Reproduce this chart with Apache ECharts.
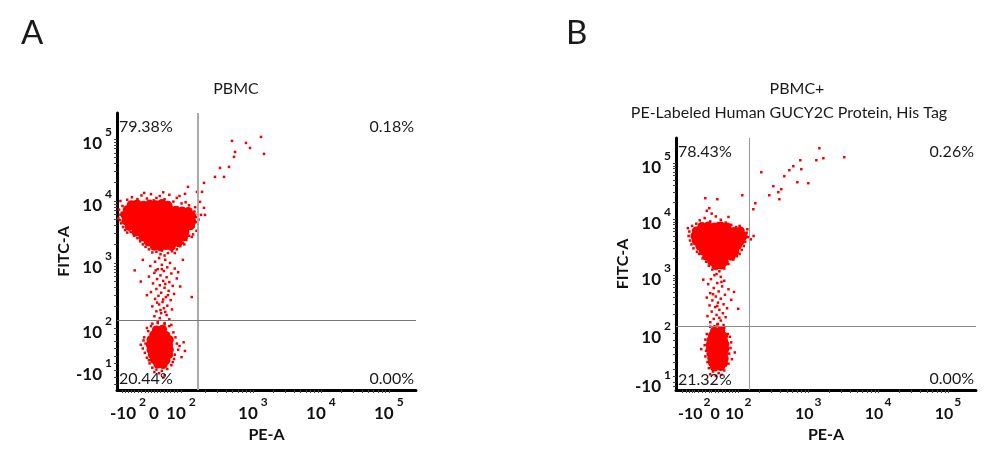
<!DOCTYPE html>
<html>
<head>
<meta charset="utf-8">
<script src="https://cdn.jsdelivr.net/npm/echarts@6/dist/echarts.min.js"></script>
<style>
html,body{margin:0;padding:0;background:#fff;}
#chart{width:1000px;height:456px;}
</style>
</head>
<body>
<div id="chart"></div>
<script>
// Axis coordinates are biexponential display units (1 unit = 1 decade above 10^2).
// ---- Tick labels ----
const xTickPosA = [1.162, 1.544, 1.941, 3, 4, 5];
const yTickPosA = [1.274, 1.952, 3, 4, 5];
const xTickPosB = [1.37, 1.671, 2.0, 3, 4, 5];
const yTickPosB = [1.09, 1.96, 3, 4, 5];
const xTickBase = ['-10', '0', '10', '10', '10', '10'];
const xTickExp  = ['2', '', '2', '3', '4', '5'];
const yTickBase = ['-10', '10', '10', '10', '10'];
const yTickExp  = ['1', '2', '3', '4', '5'];

// ---- Quadrant gates ----
const gateA = {x: 2.19, y: 2.074};
const gateB = {x: 2.158, y: 2.089};

// ---- Quadrant percentages [UL, UR, LL, LR] ----
const quadA = ['79.38%', '0.18%', '20.44%', '0.00%'];
const quadB = ['78.43%', '0.26%', '21.32%', '0.00%'];

// ---- Panel A events (PE-A, FITC-A) ----
const aDense = [
[1.21,3.94],[1.30,3.95],[1.39,3.93],[1.48,3.95],[1.57,3.94],[1.66,3.96],[1.75,3.93],
[1.15,3.86],[1.24,3.87],[1.33,3.85],[1.42,3.87],[1.51,3.86],[1.60,3.88],[1.69,3.85],[1.78,3.86],[1.87,3.85],[1.96,3.84],[2.05,3.83],
[1.12,3.77],[1.21,3.78],[1.30,3.76],[1.39,3.78],[1.48,3.77],[1.57,3.79],[1.66,3.76],[1.75,3.78],[1.84,3.77],[1.93,3.76],[2.02,3.78],[2.10,3.76],
[1.13,3.68],[1.22,3.69],[1.31,3.67],[1.40,3.69],[1.49,3.68],[1.58,3.70],[1.67,3.67],[1.76,3.69],[1.85,3.68],[1.94,3.67],[2.03,3.69],[2.10,3.67],
[1.18,3.59],[1.27,3.60],[1.36,3.58],[1.45,3.60],[1.54,3.59],[1.63,3.61],[1.72,3.58],[1.81,3.60],[1.90,3.59],[1.99,3.58],[2.08,3.60],
[1.28,3.50],[1.37,3.51],[1.46,3.49],[1.55,3.51],[1.64,3.50],[1.73,3.52],[1.82,3.49],[1.91,3.51],[2.00,3.50],
[1.38,3.42],[1.47,3.43],[1.56,3.41],[1.65,3.43],[1.74,3.42],[1.83,3.41],[1.92,3.43],[1.98,3.42],
[1.46,3.34],[1.55,3.35],[1.64,3.33],[1.73,3.35],[1.82,3.34],[1.90,3.33],
[1.55,3.27],[1.64,3.26],[1.72,3.28],[1.80,3.27],
[1.58,1.92],[1.67,1.93],
[1.54,1.84],[1.63,1.85],[1.72,1.83],
[1.50,1.76],[1.59,1.77],[1.68,1.75],[1.77,1.76],
[1.49,1.68],[1.58,1.69],[1.67,1.67],[1.76,1.68],
[1.50,1.60],[1.59,1.61],[1.68,1.59],[1.77,1.60],
[1.52,1.52],[1.61,1.53],[1.70,1.51],[1.76,1.52],
[1.55,1.44],[1.64,1.45],[1.72,1.43],
[1.60,1.37],[1.68,1.36]
];
const aSparse = [
[1.15,4.02],[1.22,4.06],[1.30,4.03],[1.36,4.09],[1.44,4.04],[1.50,4.11],[1.58,4.05],[1.63,4.08],[1.70,4.03],[1.77,4.10],[1.83,3.99],[1.88,4.05],[1.95,3.96],[2.01,3.98],[2.06,3.93],[1.40,4.13],[1.68,4.14],[1.05,4.00],[1.26,3.99],[1.54,4.01],[1.92,4.08],
[1.03,3.86],[1.05,3.78],[1.02,3.72],[1.06,3.64],[1.08,3.92],[1.04,3.69],[1.09,3.58],[1.12,3.53],[1.15,3.49],[1.07,3.81],
[2.14,3.83],[2.16,3.74],[2.18,3.66],[2.13,3.59],[2.17,3.52],[2.12,3.46],[2.20,3.70],[2.15,3.90],[2.10,3.42],[2.19,3.79],
[1.20,3.50],[1.25,3.44],[1.30,3.40],[1.34,3.35],[1.24,3.53],[1.38,3.30],[1.42,3.26],[1.47,3.22],[1.36,3.43],[1.19,3.56],
[2.06,3.44],[2.02,3.37],[1.97,3.32],[1.93,3.27],[1.88,3.22],[2.04,3.52],[1.99,3.30],[1.85,3.16],[1.81,3.19],
[1.58,3.18],[1.64,3.14],[1.70,3.12],[1.75,3.16],[1.52,3.17],[1.66,3.20],
[1.62,3.08],[1.71,3.05],[1.56,3.02],[1.78,3.00],[1.66,2.97],[1.49,2.95],[1.74,2.93],[1.60,2.90],[1.85,2.91],[1.69,2.87],[1.55,2.84],[1.80,2.83],[1.64,2.80],[1.73,2.77],[1.47,2.78],[1.59,2.74],[1.88,2.75],[1.68,2.71],[1.77,2.69],[1.53,2.67],[1.63,2.64],[1.82,2.63],[1.70,2.60],[1.58,2.58],[1.76,2.55],[1.65,2.52],[1.50,2.53],[1.84,2.50],[1.61,2.47],[1.72,2.45],[1.56,2.42],[1.79,2.40],[1.67,2.37],[1.62,2.33],[1.74,2.31],[1.52,2.30],[1.69,2.27],[1.81,2.25],[1.58,2.22],[1.65,2.19],[1.73,2.16],[1.55,2.14],[1.63,2.11],[1.77,2.09],[1.60,2.06],[1.70,2.03],[1.52,2.02],[1.80,2.00],[1.26,2.88],[1.38,3.05],[2.10,2.45],[1.93,2.62],[1.44,2.48],[1.90,2.85],[1.35,2.70],[1.97,3.05],[1.66,2.90],[1.71,2.66],[1.57,2.88],[1.75,2.48],[1.68,2.41],[1.64,2.24],[1.59,2.36],[1.71,2.21],
[1.40,1.80],[1.42,1.70],[1.38,1.62],[1.41,1.55],[1.44,1.47],[1.39,1.75],[1.86,1.80],[1.88,1.70],[1.90,1.60],[1.85,1.52],[1.92,1.66],[1.84,1.45],[1.83,1.88],[1.46,1.90],[1.50,1.98],[1.77,1.98],[1.60,2.03],[1.70,2.01],[1.48,1.38],[1.52,1.31],[1.58,1.28],[1.66,1.26],[1.74,1.29],[1.80,1.35],[1.62,1.22],[1.70,1.19],[1.55,1.24],[1.68,1.15],[1.95,1.48],[1.98,1.72],[1.35,1.68],[2.00,1.58],[1.44,1.95],[1.82,1.40],[1.47,1.43],
[2.692,4.970],[2.898,4.937],[3.119,5.034],[2.957,4.856],[2.737,4.791],[3.163,4.760],[2.722,4.712],[2.648,4.550],[2.516,4.534],[2.442,4.389],[2.575,4.389],[2.280,4.292],[2.251,4.147],[2.045,4.228],[2.280,3.889],[2.221,3.986],[2.177,4.147],[2.001,4.115],[2.295,3.776],[2.236,3.776]
];

// ---- Panel B events (PE-A, FITC-A) ----
const bDense = [
[1.48,3.87],[1.57,3.88],[1.66,3.86],[1.75,3.88],[1.84,3.86],
[1.40,3.79],[1.49,3.80],[1.58,3.78],[1.67,3.80],[1.76,3.79],[1.85,3.80],[1.94,3.78],[2.03,3.79],
[1.38,3.70],[1.47,3.71],[1.56,3.69],[1.65,3.71],[1.74,3.70],[1.83,3.72],[1.92,3.69],[2.01,3.71],[2.07,3.70],
[1.40,3.61],[1.49,3.62],[1.58,3.60],[1.67,3.62],[1.76,3.61],[1.85,3.63],[1.94,3.60],[2.03,3.61],
[1.45,3.52],[1.54,3.53],[1.63,3.51],[1.72,3.53],[1.81,3.52],[1.90,3.51],[1.99,3.53],
[1.50,3.43],[1.59,3.44],[1.68,3.42],[1.77,3.44],[1.86,3.43],[1.95,3.42],
[1.55,3.34],[1.64,3.35],[1.73,3.33],[1.82,3.35],[1.90,3.34],
[1.62,3.25],[1.71,3.26],[1.80,3.24],
[1.68,3.17],[1.76,3.18],
[1.66,2.00],[1.75,2.01],
[1.63,1.92],[1.72,1.93],[1.79,1.91],
[1.61,1.84],[1.70,1.85],[1.79,1.83],
[1.60,1.76],[1.69,1.77],[1.78,1.75],[1.81,1.77],
[1.60,1.68],[1.69,1.69],[1.78,1.67],[1.81,1.68],
[1.61,1.60],[1.70,1.61],[1.79,1.59],
[1.62,1.52],[1.71,1.53],[1.80,1.51],
[1.63,1.44],[1.72,1.45],[1.79,1.43],
[1.66,1.36],[1.75,1.37]
];
const bSparse = [
[1.45,3.98],[1.52,4.02],[1.60,3.96],[1.68,4.05],[1.75,3.99],[1.82,3.94],[1.90,3.90],[1.97,3.86],[1.40,3.92],[1.62,4.10],[1.86,4.04],[1.55,4.15],[1.34,3.88],[1.71,3.93],[2.02,3.88],
[1.30,3.78],[1.29,3.70],[1.31,3.62],[1.33,3.55],[1.36,3.48],[1.28,3.84],[1.41,3.42],
[2.12,3.76],[2.14,3.68],[2.10,3.60],[2.08,3.52],[2.05,3.45],[2.18,3.64],[2.13,3.82],[2.22,3.70],[2.02,3.38],
[1.44,3.38],[1.49,3.30],[1.54,3.24],[1.58,3.17],[1.63,3.10],[1.73,3.07],[1.80,3.12],[1.86,3.20],[1.93,3.28],[1.98,3.34],[1.69,3.02],
[1.66,3.00],[1.75,2.97],[1.61,2.93],[1.80,2.90],[1.70,2.86],[1.57,2.84],[1.77,2.80],[1.65,2.77],[1.86,2.75],[1.72,2.71],[1.60,2.68],[1.81,2.65],[1.68,2.62],[1.75,2.58],[1.55,2.60],[1.63,2.55],[1.90,2.56],[1.71,2.51],[1.79,2.48],[1.59,2.46],[1.67,2.43],[1.84,2.41],[1.73,2.38],[1.62,2.35],[1.78,2.32],[1.69,2.29],[1.56,2.27],[1.82,2.25],[1.65,2.22],[1.75,2.19],[1.60,2.16],[1.71,2.13],[1.79,2.11],[1.66,2.09],[1.94,2.70],[1.50,2.92],[2.00,2.40],[1.76,2.88],[1.64,2.66],[1.70,2.45],[1.73,2.24],
[1.55,1.95],[1.53,1.85],[1.52,1.75],[1.54,1.65],[1.53,1.55],[1.56,1.45],[1.88,1.90],[1.90,1.80],[1.89,1.70],[1.87,1.60],[1.91,1.50],[1.86,1.42],[1.60,2.08],[1.70,2.12],[1.80,2.06],[1.64,1.28],[1.72,1.25],[1.80,1.30],[1.58,1.34],[1.68,1.20],[1.76,1.22],[1.47,1.68],[1.95,1.62],[1.85,1.95],[1.60,1.23],
[3.160,5.267],[3.217,5.089],[3.517,5.107],[3.117,5.053],[2.888,5.053],[2.902,4.893],[2.788,4.946],[2.731,4.875],[2.659,4.768],[2.845,4.660],[3.002,4.643],[2.330,4.839],[2.502,4.589],[2.573,4.482],[2.616,4.536],[2.444,4.428],[2.588,4.357],[2.244,4.285],[2.216,4.178],[2.058,4.428],[1.701,4.357],[1.586,4.196],[1.529,4.375]
];

// ---------- helpers ----------
const FONT = 'Lato, "Open Sans", sans-serif';
function minorTicks(majors, linear) {
  const out = majors.slice();
  linear.forEach(v => out.push(v));
  [2, 3, 4].forEach(d => { for (let k = 2; k <= 9; k++) out.push(d + Math.log10(k)); });
  return out.sort((a, b) => a - b);
}
function labelFmt(pos, base, exp) {
  return function (value) {
    let idx = 0, best = 1e9;
    pos.forEach((p, i) => { const d = Math.abs(p - value); if (d < best) { best = d; idx = i; } });
    return '{h|}{b|' + base[idx] + '}' + (exp[idx] ? '{s|' + exp[idx] + '}' : '');
  };
}
function makeRich(size, supPad) {
  return {
    h: {fontSize: 1, lineHeight: 26, width: 0},
    b: {fontFamily: FONT, fontWeight: 'bold', fontSize: size, color: '#111', lineHeight: size, verticalAlign: 'bottom'},
    s: {fontFamily: FONT, fontWeight: 'bold', fontSize: 12, color: '#111', lineHeight: 12, verticalAlign: 'top', padding: [0, 0, 0, supPad]}
  };
}
function xAxisDef(grid, min, max, pos, linear, size, supPad) {
  return {
    type: 'value', gridIndex: grid, min: min, max: max,
    name: 'PE-A', nameLocation: 'middle', nameGap: 32,
    nameTextStyle: {fontFamily: FONT, fontWeight: 'bold', fontSize: 16, color: '#111'},
    axisLine: {show: true, onZero: false, lineStyle: {color: '#000', width: 3}},
    axisTick: {show: true, length: 3, customValues: minorTicks(pos, linear), lineStyle: {color: '#444', width: 1}},
    axisLabel: {customValues: pos, margin: 6, hideOverlap: false, showMinLabel: true, showMaxLabel: true,
      formatter: labelFmt(pos, xTickBase, xTickExp), rich: makeRich(size, supPad)},
    splitLine: {show: false}
  };
}
function yAxisDef(grid, min, max, pos, linear) {
  return {
    type: 'value', gridIndex: grid, min: min, max: max,
    name: 'FITC-A', nameLocation: 'middle', nameGap: 42, nameRotate: 90,
    nameTextStyle: {fontFamily: FONT, fontWeight: 'bold', fontSize: 16, color: '#111'},
    axisLine: {show: true, onZero: false, lineStyle: {color: '#000', width: 3}},
    axisTick: {show: true, length: 3, customValues: minorTicks(pos, linear), lineStyle: {color: '#444', width: 1}},
    axisLabel: {customValues: pos, margin: 5, hideOverlap: false, formatter: labelFmt(pos, yTickBase, yTickExp), rich: makeRich(17, 3)},
    splitLine: {show: false}
  };
}
function gateLines(g, vColor, vWidth, hColor, hWidth) {
  return {
    silent: true, symbol: 'none', label: {show: false}, animation: false,
    data: [
      {xAxis: g.x, lineStyle: {color: vColor, width: vWidth, type: 'solid'}},
      {yAxis: g.y, lineStyle: {color: hColor, width: hWidth, type: 'solid'}}
    ]
  };
}
function txt(text, x, y, align, size, weight) {
  return {type: 'text', z: 100, style: {text: text, x: x, y: y, textAlign: align, textVerticalAlign: 'middle',
    font: (weight || 'normal') + ' ' + size + 'px ' + FONT, fill: '#1a1a1a'}};
}

const option = {
  animation: false,
  backgroundColor: '#fff',
  grid: [
    {left: 117, top: 113, width: 299, height: 277},
    {left: 676, top: 138, width: 300, height: 252}
  ],
  xAxis: [
    xAxisDef(0, 1.0, 5.4, xTickPosA, [1.07, 1.12, 1.21, 1.26, 1.31, 1.36, 1.41, 1.46, 1.50, 1.59, 1.64, 1.69, 1.74, 1.79, 1.84, 1.89], 17, 3),
    xAxisDef(1, 1.11, 5.4, xTickPosB, [1.20, 1.25, 1.30, 1.34, 1.43, 1.48, 1.53, 1.58, 1.62, 1.72, 1.77, 1.82, 1.87, 1.92, 1.96], 16, 1)
  ],
  yAxis: [
    yAxisDef(0, 0.95, 5.42, yTickPosA, [1.05, 1.15, 1.38, 1.50, 1.62, 1.74, 1.85]),
    yAxisDef(1, 0.95, 5.45, yTickPosB, [1.02, 1.20, 1.32, 1.45, 1.58, 1.71, 1.84])
  ],
  series: [
    {type: 'scatter', xAxisIndex: 0, yAxisIndex: 0, data: aDense, symbol: 'circle', symbolSize: 9,
     itemStyle: {color: '#ff0000', opacity: 1}, silent: true, z: 2,
     markLine: gateLines(gateA, '#aaaaaa', 2, '#777777', 1)},
    {type: 'scatter', xAxisIndex: 0, yAxisIndex: 0, data: aSparse, symbol: 'rect', symbolSize: 2.5,
     itemStyle: {color: '#f00000', opacity: 1}, silent: true, z: 3},
    {type: 'scatter', xAxisIndex: 1, yAxisIndex: 1, data: bDense, symbol: 'circle', symbolSize: 9,
     itemStyle: {color: '#ff0000', opacity: 1}, silent: true, z: 2,
     markLine: gateLines(gateB, '#999999', 1, '#888888', 1)},
    {type: 'scatter', xAxisIndex: 1, yAxisIndex: 1, data: bSparse, symbol: 'rect', symbolSize: 2.5,
     itemStyle: {color: '#f00000', opacity: 1}, silent: true, z: 3}
  ],
  graphic: [
    txt('A', 21, 33, 'left', 33),
    txt('B', 566, 33, 'left', 33),
    txt('PBMC', 236, 89, 'center', 16),
    txt('PBMC+', 797, 89, 'center', 16),
    txt('PE-Labeled Human GUCY2C Protein, His Tag', 789, 113, 'center', 16),
    txt(quadA[0], 119, 127, 'left', 16),
    txt(quadA[1], 414, 127, 'right', 16),
    txt(quadA[2], 119, 379, 'left', 16),
    txt(quadA[3], 414, 379, 'right', 16),
    txt(quadB[0], 678, 152, 'left', 16),
    txt(quadB[1], 974, 152, 'right', 16),
    txt(quadB[2], 678, 380, 'left', 16),
    txt(quadB[3], 974, 379, 'right', 16)
  ]
};
const chart = echarts.init(document.getElementById('chart'), null, {renderer: 'canvas'});
chart.setOption(option);
</script>
</body>
</html>
